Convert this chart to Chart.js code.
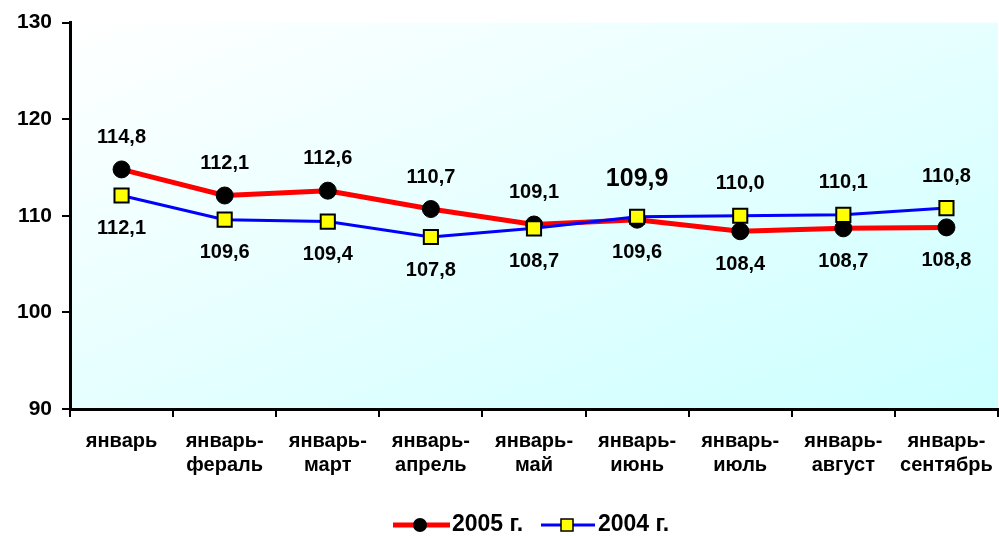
<!DOCTYPE html>
<html>
<head>
<meta charset="utf-8">
<script src="https://cdn.jsdelivr.net/npm/chart.js@4.4.0/dist/chart.umd.min.js"></script>
<style>
html,body{margin:0;padding:0;background:#fff;overflow:hidden;width:999px;height:536px;}
canvas{display:block;}
</style>
</head>
<body>
<canvas id="c" width="1010" height="536" style="width:1010px;height:536px;"></canvas>
<script>
const categories = [
  ['январь'], ['январь-','фераль'], ['январь-','март'], ['январь-','апрель'],
  ['январь-','май'], ['январь-','июнь'], ['январь-','июль'], ['январь-','август'], ['январь-','сентябрь']
];
const series2005 = [114.8, 112.1, 112.6, 110.7, 109.1, 109.6, 108.4, 108.7, 108.8];
const series2004 = [112.1, 109.6, 109.4, 107.8, 108.7, 109.9, 110.0, 110.1, 110.8];
const seriesNames = ['2005 г.', '2004 г.'];
const yTicks = [90, 100, 110, 120, 130];

const FONT = '"Liberation Sans", Arial, sans-serif';

const bgPlugin = {
  id: 'bg',
  beforeDraw(chart) {
    const {ctx, chartArea: a} = chart;
    const W = a.right - a.left, H = a.bottom - a.top;
    const dx = 2 * W / (1 + (W * W) / (H * H));
    const dy = W * dx / H;
    const g = ctx.createLinearGradient(a.left, a.top, a.left + dx, a.top + dy);
    g.addColorStop(0, '#ffffff');
    g.addColorStop(0.5, '#e6ffff');
    g.addColorStop(1, '#ccffff');
    ctx.save();
    ctx.fillStyle = g;
    ctx.fillRect(a.left, a.top, W, H);
    ctx.restore();
  }
};

const labelPlugin = {
  id: 'vlabels',
  afterDatasetsDraw(chart) {
    const {ctx} = chart;
    const xs = chart.scales.x, ys = chart.scales.y;
    const all = [series2005, series2004];
    ctx.save();
    ctx.fillStyle = '#000';
    ctx.textAlign = 'center';
    ctx.textBaseline = 'middle';
    all.forEach((s, di) => {
      const other = all[1 - di];
      s.forEach((v, i) => {
        const x = xs.getPixelForValue(i);
        const y = ys.getPixelForValue(v);
        const above = v > other[i];
        const big = (di === 1 && i === 5);
        ctx.font = 'bold ' + (big ? 25 : 20) + 'px ' + FONT;
        const ty = above ? y - (big ? 38 : 32) : y + 33;
        ctx.fillText(v.toFixed(1).replace('.', ','), x, ty);
      });
    });
    ctx.restore();
  }
};

const legendPlugin = {
  id: 'customLegend',
  afterDraw(chart) {
    const {ctx} = chart;
    const y = 525;
    ctx.save();
    ctx.strokeStyle = '#ff0000'; ctx.lineWidth = 5;
    ctx.beginPath(); ctx.moveTo(393, y); ctx.lineTo(450, y); ctx.stroke();
    ctx.fillStyle = '#000';
    ctx.beginPath(); ctx.arc(420, y, 7, 0, Math.PI * 2); ctx.fill();
    ctx.font = 'bold 23px ' + FONT;
    ctx.textBaseline = 'middle'; ctx.textAlign = 'left';
    ctx.fillText(seriesNames[0], 452, y);
    ctx.strokeStyle = '#0000ff'; ctx.lineWidth = 3;
    ctx.beginPath(); ctx.moveTo(541, y); ctx.lineTo(595, y); ctx.stroke();
    ctx.fillStyle = '#ffff00'; ctx.strokeStyle = '#000'; ctx.lineWidth = 1.5;
    ctx.fillRect(561, y - 6, 12, 12); ctx.strokeRect(561, y - 6, 12, 12);
    ctx.fillStyle = '#000';
    ctx.fillText(seriesNames[1], 598, y);
    ctx.restore();
  }
};

new Chart(document.getElementById('c'), {
  type: 'line',
  data: {
    labels: categories,
    datasets: [
      {
        label: seriesNames[0], data: series2005,
        borderColor: '#ff0000', borderWidth: 5,
        pointStyle: 'circle', pointRadius: 8.5, pointBackgroundColor: '#000', pointBorderColor: '#000', pointBorderWidth: 1,
        tension: 0, order: 1
      },
      {
        label: seriesNames[1], data: series2004,
        borderColor: '#0000ff', borderWidth: 3,
        pointStyle: 'rect', pointRadius: 10, pointBackgroundColor: '#ffff00', pointBorderColor: '#000', pointBorderWidth: 2,
        tension: 0, order: 0
      }
    ]
  },
  options: {
    responsive: false, animation: false, devicePixelRatio: 1,
    layout: {padding: {top: 22, right: 0, left: 0, bottom: 0}},
    plugins: {legend: {display: false}, tooltip: {enabled: false}},
    scales: {
      x: {
        offset: true,
        grid: {display: true, drawOnChartArea: false, drawTicks: true, tickLength: 16, tickBorderDash: [6, 40], color: '#000', lineWidth: 2, offset: true},
        border: {display: true, color: '#000', width: 3},
        ticks: {color: '#000', font: {family: FONT, size: 20, weight: 'bold'}, padding: 4, maxRotation: 0, autoSkip: false},
        afterFit(s) { s.height = 127; }
      },
      y: {
        min: 90, max: 130,
        afterBuildTicks(s) { s.ticks = yTicks.map(v => ({value: v})); },
        grid: {display: true, drawOnChartArea: false, drawTicks: true, tickLength: 8, color: '#000', lineWidth: 2},
        border: {display: true, color: '#000', width: 3},
        ticks: {color: '#000', font: {family: FONT, size: 21, weight: 'bold'}, padding: 10},
        afterFit(s) { s.width = 70; }
      }
    }
  },
  plugins: [bgPlugin, labelPlugin, legendPlugin]
});
</script>
</body>
</html>
